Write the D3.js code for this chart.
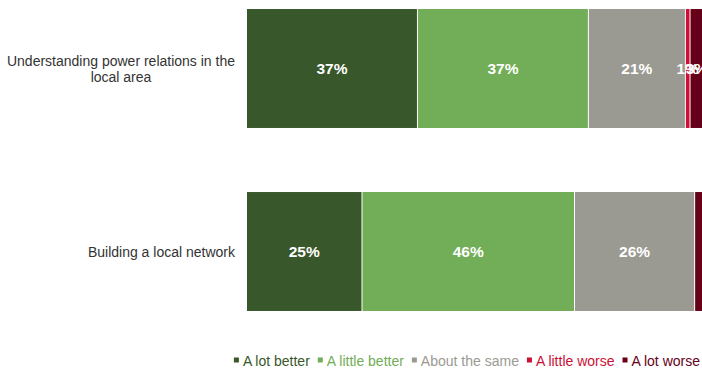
<!DOCTYPE html>
<html>
<head>
<meta charset="utf-8">
<script src="https://cdn.jsdelivr.net/npm/d3@7"></script>
<style>
  html, body { margin: 0; padding: 0; background: #fff; }
  svg { display: block; font-family: "Liberation Sans", Arial, sans-serif; }
</style>
</head>
<body>
<svg id="chart" width="702" height="369"></svg>
<script>
// Survey items (each label split into its wrapped lines)
const categories = [
  ["Understanding power relations in the", "local area"],
  ["Building a local network"]
];
const seriesNames = ["A lot better", "A little better", "About the same", "A little worse", "A lot worse"];
const seriesColors = ["#38572a", "#72ad57", "#9b9a92", "#cc0f35", "#660019"];
// Percent values per series, one entry per item
const aLotBetter    = [37, 25];
const aLittleBetter = [37, 46];
const aboutTheSame  = [21, 26];
const aLittleWorse  = [1, 0];
const aLotWorse     = [3, 3];
// Whether each series shows its value label, per item
const showLabels = [
  [true, true, true, true, true],
  [true, true, true, false, false]
];

const seriesValues = [aLotBetter, aLittleBetter, aboutTheSame, aLittleWorse, aLotWorse];

const svg = d3.select("#chart");

const x = d3.scaleLinear().domain([0, 100]).range([247, 709]);
const y = d3.scaleBand().domain(d3.range(categories.length))
  .range([-23, 343]).paddingInner(0.35).paddingOuter(0.175);

const rows = categories.map((c, i) => {
  let acc = 0;
  return seriesValues.map((vals, s) => {
    const v = vals[i];
    const seg = { row: i, s, v, x0: acc, x1: acc + v };
    acc += v;
    return seg;
  });
});

const g = svg.append("g");

rows.forEach((segs, i) => {
  const rg = g.append("g");
  rg.selectAll("rect").data(segs.filter(d => d.v > 0)).join("rect")
    .attr("x", d => x(d.x0))
    .attr("y", y(i))
    .attr("width", d => Math.max(0, x(d.x1) - x(d.x0) - 1))
    .attr("height", y.bandwidth())
    .attr("fill", d => seriesColors[d.s]);
  rg.selectAll("text").data(segs.filter(d => d.v > 0 && showLabels[i][d.s])).join("text")
    .attr("x", d => (x(d.x0) + x(d.x1) - 1) / 2)
    .attr("y", y(i) + y.bandwidth() / 2)
    .attr("dy", "0.36em")
    .attr("text-anchor", "middle")
    .attr("fill", "#fff")
    .attr("font-weight", "bold")
    .attr("font-size", 15.5)
    .text(d => d.v + "%");
});

// Category labels: block right-aligned to the axis, lines centered inside it
const labelRight = 235;
categories.forEach((lines, i) => {
  const t = g.append("text")
    .attr("font-size", 14)
    .attr("fill", "#333");
  const cy = y(i) + y.bandwidth() / 2;
  const lh = 16;
  const spans = lines.map((ln, k) => t.append("tspan")
    .attr("y", cy + (k - (lines.length - 1) / 2) * lh)
    .attr("dy", "0.36em")
    .text(ln));
  const widths = spans.map(s => s.node().getComputedTextLength());
  const maxW = d3.max(widths);
  const center = labelRight - maxW / 2;
  spans.forEach(s => s.attr("x", center).attr("text-anchor", "middle"));
});

// Legend, right-aligned to the chart edge
const lg = svg.append("g");
const ly = 360.5;
const items = seriesNames.map((name, s) => {
  const it = lg.append("g");
  it.append("rect")
    .attr("x", 0).attr("y", ly - 3).attr("width", 5).attr("height", 5)
    .attr("fill", seriesColors[s]);
  const t = it.append("text")
    .attr("x", 9).attr("y", ly)
    .attr("dy", "0.36em")
    .attr("font-size", 14)
    .attr("fill", seriesColors[s])
    .text(name);
  return { it, w: 9 + t.node().getComputedTextLength() };
});
const gap = 8;
const total = d3.sum(items, d => d.w) + gap * (items.length - 1);
let lx = 700 - total;
items.forEach(d => {
  d.it.attr("transform", `translate(${lx},0)`);
  lx += d.w + gap;
});
</script>
</body>
</html>
